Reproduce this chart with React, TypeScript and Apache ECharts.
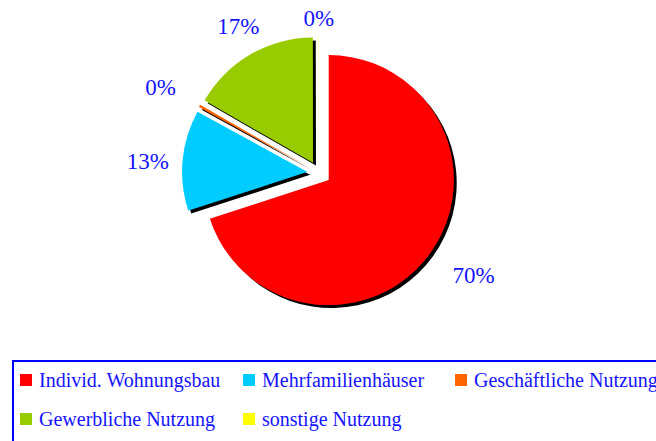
import React, { useEffect, useRef } from "react";
import * as echarts from "echarts";

const categories = [
  "Individ. Wohnungsbau",
  "Mehrfamilienhäuser",
  "Geschäftliche Nutzung",
  "Gewerbliche Nutzung",
  "sonstige Nutzung",
];
const shares = [70, 13, 0.3, 16.67, 0.03];
const colors = ["#ff0000", "#00ccff", "#ff6600", "#99cc00", "#ffff00"];

// label nudges (px), styling only: radial, then extra x/y shift
const LABEL_NUDGE = [11, -1, 9, -4, -16];
const LABEL_SHIFT: [number, number][] = [
  [4, -7],
  [2, 5],
  [2, 5],
  [5, 1],
  [0, 4],
];

const CENTER: [number, number] = [319, 173];
const TEXT_BLUE = "#1414ff";
const SERIF = "Liberation Serif";

export default function App() {
  const ref = useRef<HTMLDivElement>(null);
  useEffect(() => {
    if (!ref.current) return;
    const chart = echarts.init(ref.current, undefined, { renderer: "svg" });
    const total = shares.reduce((a, b) => a + b, 0);
    const mids: number[] = [];
    let acc = 0;
    shares.forEach((v) => {
      mids.push(((acc + v / 2) / total) * 2 * Math.PI);
      acc += v;
    });

    const legendPos = [
      { left: 20, top: 370 },
      { left: 243, top: 370 },
      { left: 455, top: 370 },
      { left: 20, top: 409 },
      { left: 243, top: 409 },
    ];

    chart.setOption({
      animation: false,
      backgroundColor: "#ffffff",
      graphic: [
        {
          type: "rect",
          shape: { x: 13, y: 361, width: 700, height: 120 },
          style: { fill: "none", stroke: "#0000ff", lineWidth: 2 },
          silent: true,
        },
      ],
      legend: categories.map((name, i) => ({
        data: [name],
        left: legendPos[i].left,
        top: legendPos[i].top,
        padding: 0,
        icon: "rect",
        itemWidth: 12,
        itemHeight: 12,
        selectedMode: false,
        textStyle: {
          fontFamily: SERIF,
          fontSize: 20,
          color: TEXT_BLUE,
          padding: [0, 0, 0, 2],
        },
      })),
      series: [
        {
          type: "pie",
          center: CENTER,
          radius: 125,
          startAngle: 90,
          clockwise: true,
          selectedMode: "multiple",
          selectedOffset: 12,
          avoidLabelOverlap: false,
          emphasis: { disabled: true, scale: false },
          label: { show: false },
          labelLine: { show: false },
          itemStyle: {
            borderWidth: 0,
            shadowColor: "#000000",
            shadowBlur: 0,
            shadowOffsetX: 3,
            shadowOffsetY: 3,
          },
          data: categories.map((name, i) => ({
            name,
            value: shares[i],
            selected: true,
            itemStyle: { color: colors[i] },
            select: {
              itemStyle: {
                color: colors[i],
                borderWidth: 0,
                shadowColor: "#000000",
                shadowBlur: 0,
                shadowOffsetX: 3,
                shadowOffsetY: 3,
              },
            },
          })),
        },
        {
          type: "pie",
          center: CENTER,
          radius: [162, 182],
          startAngle: 90,
          clockwise: true,
          silent: true,
          selectedMode: false,
          avoidLabelOverlap: false,
          emphasis: { disabled: true, scale: false },
          itemStyle: { color: "rgba(0,0,0,0)", borderWidth: 0 },
          labelLine: { show: false },
          label: {
            show: true,
            position: "inside",
            rotate: 0,
            fontFamily: SERIF,
            fontSize: 23,
            color: TEXT_BLUE,
            formatter: (p: any) => Math.round(p.percent) + "%",
          },
          labelLayout: (p: any) => {
            const a = mids[p.dataIndex];
            const n = LABEL_NUDGE[p.dataIndex];
            const s = LABEL_SHIFT[p.dataIndex];
            return {
              dx: Math.sin(a) * n + s[0],
              dy: -Math.cos(a) * n + s[1],
            };
          },
          data: categories.map((name, i) => ({ name, value: shares[i] })),
        },
      ],
    });
    return () => chart.dispose();
  }, []);
  return (
    <div
      ref={ref}
      style={{ position: "fixed", left: 0, top: 0, width: 656, height: 441 }}
    />
  );
}
